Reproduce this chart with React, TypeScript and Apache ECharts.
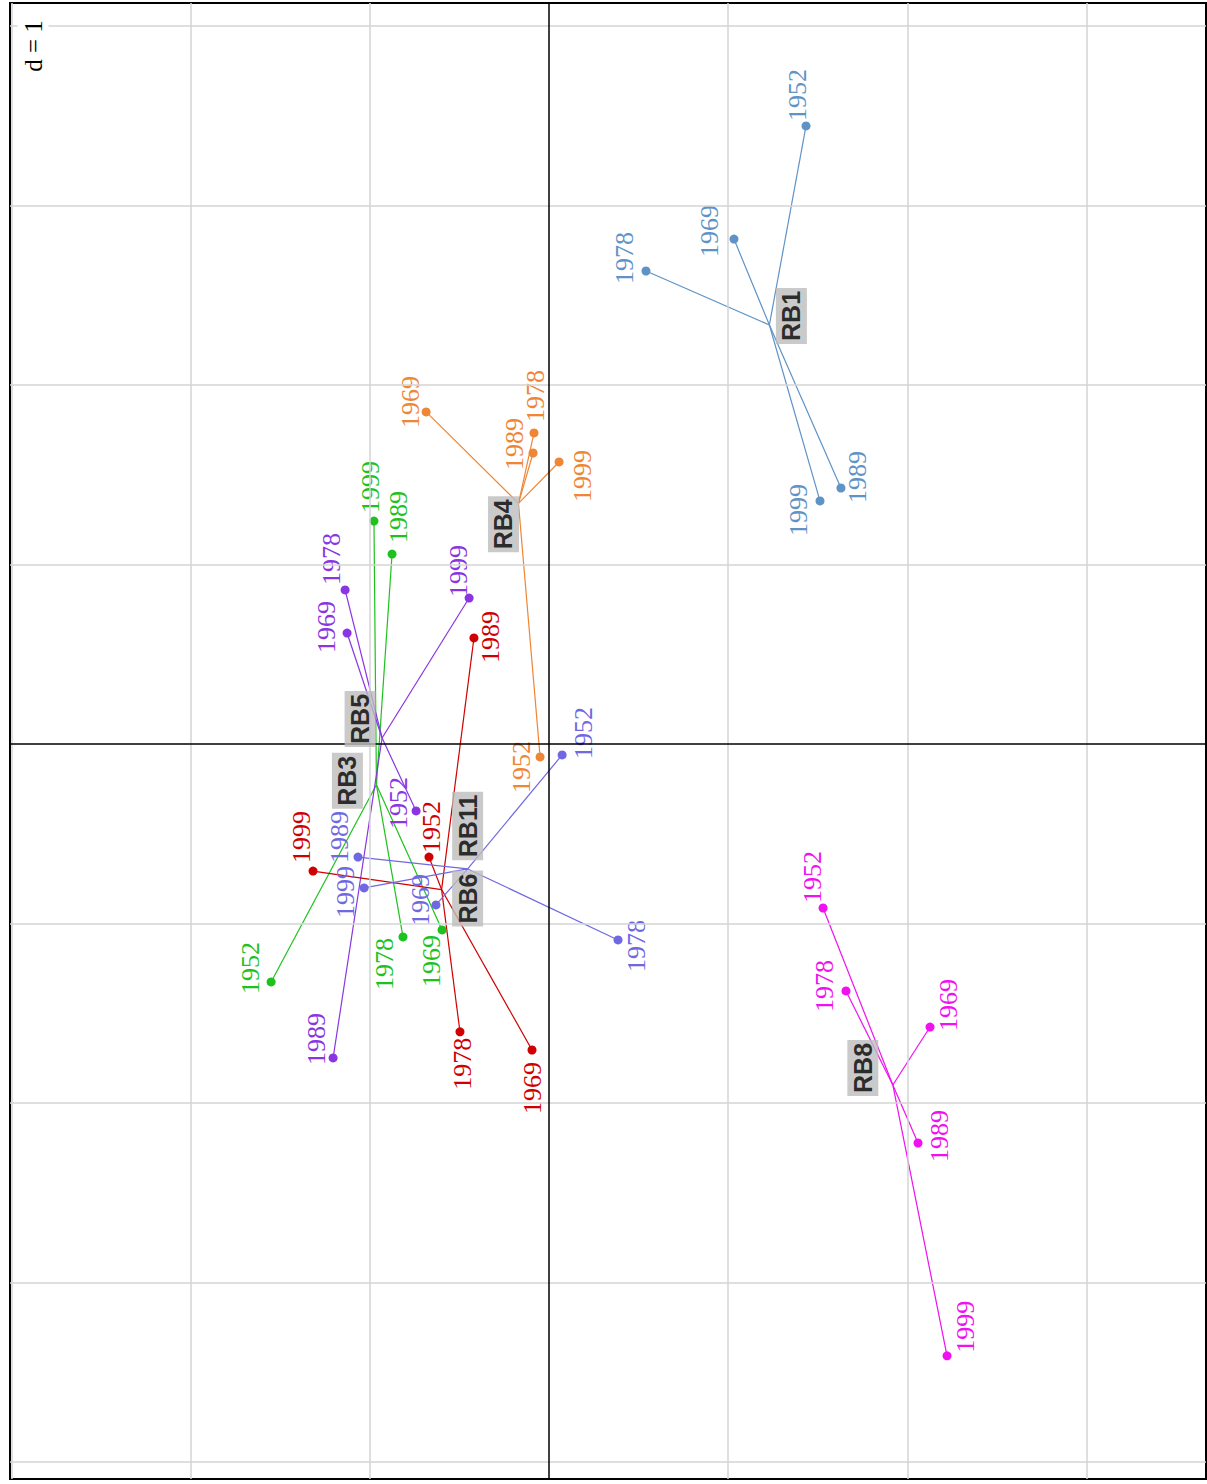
import React, { useEffect, useRef } from "react";
import * as echarts from "echarts";

// Year labels for each point of every class
const years = ["1952", "1969", "1978", "1989", "1999"];

// Coordinates (d = 1 units), in the order of `years`
const rb1X = [1.434, 1.032, 0.541, 1.629, 1.512];
const rb1Y = [3.443, 2.813, 2.635, 1.426, 1.354];

const rb4X = [-0.05, -0.686, -0.084, -0.089, 0.056];
const rb4Y = [-0.072, 1.85, 1.733, 1.621, 1.571];

const rb3X = [-1.551, -0.597, -0.815, -0.876, -0.977];
const rb3Y = [-1.326, -1.036, -1.075, 1.058, 1.242];

const rb5X = [-0.742, -1.127, -1.138, -1.205, -0.446];
const rb5Y = [-0.373, 0.618, 0.858, -1.749, 0.813];

const rb6X = [-0.67, -0.095, -0.497, -0.419, -1.317];
const rb6Y = [-0.63, -1.705, -1.604, 0.591, -0.708];

const rb11X = [0.073, -0.631, 0.385, -1.066, -1.032];
const rb11Y = [-0.061, -0.897, -1.092, -0.63, -0.802];

const rb8X = [1.529, 2.126, 1.657, 2.059, 2.221];
const rb8Y = [-0.914, -1.577, -1.376, -2.223, -3.409];

// Grid ticks (d = 1)
const xGridTicks = [-3, -2, -1, 1, 2, 3];
const yGridTicks = [-4, -3, -2, -1, 1, 2, 3, 4];

// Label layout offsets on screen (pixels: right, down), kept apart from the data
const rb1Off = [[-9, -31], [-24, -8], [-21, -13], [17, -11], [-21, 9]];
const rb4Off = [[-19, 10], [-16, -10], [2, -37], [-19, -9], [23, 14]];
const rb3Off = [[-21, -14], [-11, 31], [-18, 27], [6, -37], [-3, -34]];
const rb5Off = [[-18, -8], [-21, -6], [-14, -31], [-17, -19], [-11, -27]];
const rb6Off = [[3, -30], [0, 38], [3, 32], [17, -1], [-12, -34]];
const rb11Off = [[21, -22], [-15, -5], [18, 6], [-19, -20], [-19, 4]];
const rb8Off = [[-11, -31], [18, -22], [-21, -5], [21, -7], [18, -29]];

const groups = [
  { name: "RB1", xs: rb1X, ys: rb1Y, color: "#5f93c6", off: rb1Off, cOff: [22, -9] },
  { name: "RB4", xs: rb4X, ys: rb4Y, color: "#ef8636", off: rb4Off, cOff: [-15, 21] },
  { name: "RB3", xs: rb3X, ys: rb3Y, color: "#1ec21e", off: rb3Off, cOff: [-29, -4] },
  { name: "RB5", xs: rb5X, ys: rb5Y, color: "#8a35e2", off: rb5Off, cOff: [-22, -19] },
  { name: "RB6", xs: rb6X, ys: rb6Y, color: "#d00000", off: rb6Off, cOff: [26, 9] },
  { name: "RB11", xs: rb11X, ys: rb11Y, color: "#7068e2", off: rb11Off, cOff: [0, -43] },
  { name: "RB8", xs: rb8X, ys: rb8Y, color: "#f010f0", off: rb8Off, cOff: [-30, -17] },
];

const mean = (a: number[]) => a.reduce((s, v) => s + v, 0) / a.length;
// labels are rotated 90deg CCW; their offset is applied in the rotated frame
const rotOff = (s: number[]) => [-s[1], s[0]];

export default function App() {
  const ref = useRef<HTMLDivElement>(null);

  useEffect(() => {
    if (!ref.current) return;
    const chart = echarts.init(ref.current, null, { renderer: "svg" });

    const gridLine = { color: "#d4d4d4", width: 1.5, type: "solid" };
    const axisLine = { color: "#000", width: 1.5, type: "solid" };

    const markData: any[] = [];
    xGridTicks.forEach((v) => markData.push({ xAxis: v, lineStyle: gridLine }));
    yGridTicks.forEach((v) => markData.push({ yAxis: v, lineStyle: gridLine }));
    markData.push({ xAxis: 0, lineStyle: axisLine });
    markData.push({ yAxis: 0, lineStyle: axisLine });

    const series: any[] = [
      {
        type: "scatter",
        data: [[0, 0]],
        symbolSize: 0,
        silent: true,
        z: 1,
        markLine: {
          silent: true,
          symbol: ["none", "none"],
          label: { show: false },
          data: markData,
          animation: false,
        },
      },
    ];

    groups.forEach((g) => {
      const cx = mean(g.xs);
      const cy = mean(g.ys);
      series.push({
        type: "lines",
        coordinateSystem: "cartesian2d",
        silent: true,
        z: 2,
        lineStyle: { color: g.color, width: 1.2, opacity: 1 },
        data: g.xs.map((x, i) => ({ coords: [[cx, cy], [x, g.ys[i]]] })),
      });
      series.push({
        type: "scatter",
        name: g.name,
        z: 3,
        symbol: "circle",
        symbolSize: 9,
        itemStyle: { color: g.color, opacity: 1 },
        label: {
          show: true,
          position: "inside",
          rotate: 90,
          formatter: "{b}",
          color: g.color,
          fontFamily: "Liberation Serif",
          fontSize: 26,
        },
        data: g.xs.map((x, i) => ({
          value: [x, g.ys[i]],
          name: years[i],
          label: { offset: rotOff(g.off[i]) },
        })),
      });
    });

    groups.forEach((g) => {
      series.push({
        type: "scatter",
        z: 5,
        symbolSize: 0,
        silent: true,
        label: {
          show: true,
          position: "inside",
          rotate: 90,
          formatter: "{b}",
          color: "#000",
          fontFamily: "Liberation Sans",
          fontWeight: "bold",
          fontSize: 25,
          lineHeight: 25,
          backgroundColor: "#bdbdbd",
          padding: [3, 3],
          offset: rotOff(g.cOff),
        },
        data: [{ value: [mean(g.xs), mean(g.ys)], name: g.name }],
      });
    });

    chart.setOption({
      animation: false,
      backgroundColor: "#ffffff",
      grid: {
        left: 10,
        right: 1,
        top: 3,
        bottom: 5,
        show: true,
        borderColor: "#000",
        borderWidth: 2,
        backgroundColor: "#fff",
      },
      xAxis: {
        type: "value",
        min: -3.008,
        max: 3.666,
        axisLine: { show: false },
        axisTick: { show: false },
        axisLabel: { show: false },
        splitLine: { show: false },
      },
      yAxis: {
        type: "value",
        min: -4.095,
        max: 4.128,
        axisLine: { show: false },
        axisTick: { show: false },
        axisLabel: { show: false },
        splitLine: { show: false },
      },
      graphic: [
        {
          type: "text",
          x: 33,
          y: 46,
          rotation: Math.PI / 2,
          z: 10,
          style: {
            text: "d = 1",
            fontFamily: "Liberation Serif",
            fontSize: 25,
            fill: "#000",
            align: "center",
            verticalAlign: "middle",
            backgroundColor: "#fff",
            padding: [3, 6],
          },
        },
      ],
      series,
    });

    return () => chart.dispose();
  }, []);

  return (
    <div
      ref={ref}
      style={{ position: "absolute", left: 0, top: 0, width: 1207, height: 1484 }}
    />
  );
}
